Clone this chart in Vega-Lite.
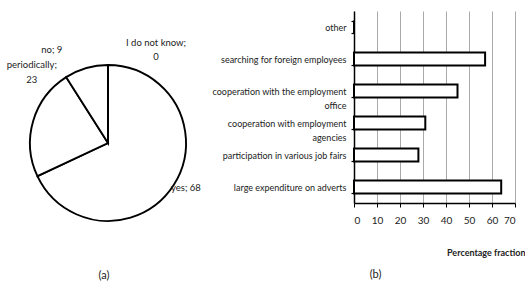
{
  "$schema": "https://vega.github.io/schema/vega-lite/v6.json",
  "background": "white",
  "padding": {"left": 0, "top": 7, "right": 0, "bottom": 0},
  "bounds": "flush",
  "spacing": 138,
  "config": {
    "view": {"stroke": null},
    "font": "Lato",
    "title": {"font": "Lato", "fontWeight": "normal", "fontSize": 11, "color": "#222"}
  },
  "hconcat": [
    {
      "width": 216,
      "height": 264,
      "title": {"text": "(a)", "orient": "bottom", "anchor": "middle", "offset": -5, "dx": -4},
      "data": {
        "values": [
          {"answer": "yes", "count": 68, "label": "yes; 68"},
          {"answer": "periodically", "count": 23, "label": "periodically;\n23"},
          {"answer": "no", "count": 9, "label": "no; 9"},
          {"answer": "I do not know", "count": 0, "label": "I do not know;\n0"}
        ]
      },
      "transform": [
        {"stack": "count", "groupby": [], "sort": [{"field": "count", "order": "descending"}], "as": ["t0", "t1"]}
      ],
      "layer": [
        {
          "mark": {"type": "arc", "outerRadius": 78, "fill": "white", "stroke": "black", "strokeWidth": 1.9},
          "encoding": {
            "theta": {"field": "t0", "type": "quantitative", "scale": {"domain": [0, 100]}},
            "theta2": {"field": "t1"}
          }
        },
        {
          "mark": {"type": "text", "radius": 90, "align": "left", "baseline": "middle", "dx": -13, "dy": -3, "fontSize": 9.5, "color": "#222", "lineBreak": "\n"},
          "encoding": {
            "theta": {"field": "count", "type": "quantitative", "stack": true},
            "order": {"field": "count", "type": "quantitative", "sort": "descending"},
            "text": {"condition": {"test": "datum.answer == 'yes'", "field": "label"}, "value": ""}
          }
        },
        {
          "transform": [{"filter": "datum.answer == 'periodically'"}],
          "mark": {"type": "text", "radius": 90, "align": "center", "baseline": "middle", "dx": -28, "dy": -2, "fontSize": 9.5, "lineHeight": 15, "color": "#222", "lineBreak": "\n"},
          "encoding": {
            "theta": {"field": "t1", "type": "quantitative"},
            "text": {"field": "label"}
          }
        },
        {
          "transform": [{"filter": "datum.answer == 'no'"}],
          "mark": {"type": "text", "radius": 90, "align": "center", "baseline": "middle", "dx": -8, "dy": -17, "fontSize": 9.5, "color": "#222", "lineBreak": "\n"},
          "encoding": {
            "theta": {"field": "t0", "type": "quantitative"},
            "text": {"field": "label"}
          }
        },
        {
          "transform": [{"filter": "datum.answer == 'I do not know'"}],
          "mark": {"type": "text", "radius": 90, "align": "center", "baseline": "middle", "dx": 48, "dy": -10, "fontSize": 9.5, "lineHeight": 14, "color": "#222", "lineBreak": "\n"},
          "encoding": {
            "theta": {"field": "t0", "type": "quantitative"},
            "text": {"field": "label"}
          }
        }
      ]
    },
    {
      "width": 161,
      "height": 192,
      "title": {"text": "(b)", "orient": "bottom", "anchor": "middle", "frame": "group", "offset": 12, "dx": -59},
      "data": {
        "values": [
          {"category": "other", "value": 0},
          {"category": "searching for foreign employees", "value": 57},
          {"category": "cooperation with the employment office", "value": 45},
          {"category": "cooperation with employment agencies", "value": 31},
          {"category": "participation in various job fairs", "value": 28},
          {"category": "large expenditure on adverts", "value": 64}
        ]
      },
      "mark": {"type": "bar", "fill": "white", "stroke": "black", "strokeWidth": 2},
      "encoding": {
        "y": {
          "field": "category",
          "type": "nominal",
          "sort": null,
          "scale": {"paddingInner": 0.6, "paddingOuter": 0.3},
          "axis": {
            "title": null,
            "domainColor": "black",
            "domainWidth": 1.5,
            "tickBand": "extent",
            "tickSize": 3,
            "tickColor": "black",
            "tickWidth": 1.2,
            "labelFontSize": 9,
            "labelColor": "#222",
            "labelLimit": 220,
            "labelLineHeight": 14,
            "labelPadding": 5,
            "labelExpr": "datum.value == 'cooperation with the employment office' ? ['cooperation with the employment', 'office'] : datum.value == 'cooperation with employment agencies' ? ['cooperation with employment', 'agencies'] : datum.value"
          }
        },
        "x": {
          "field": "value",
          "type": "quantitative",
          "scale": {"domain": [0, 70], "nice": false},
          "axis": {
            "title": "Percentage fraction",
            "titleFontWeight": "bold",
            "titleFontSize": 9,
            "titleColor": "#222",
            "titleAlign": "right",
            "titleBaseline": "middle",
            "titleX": 171,
            "titleY": 49,
            "values": [0, 10, 20, 30, 40, 50, 60, 70],
            "grid": true,
            "gridColor": "#aaa",
            "gridWidth": 1,
            "domainColor": "black",
            "domainWidth": 1.5,
            "tickColor": "black",
            "tickSize": 4,
            "labelFontSize": 10,
            "labelPadding": 8,
            "labelColor": "#222"
          }
        }
      }
    }
  ]
}
